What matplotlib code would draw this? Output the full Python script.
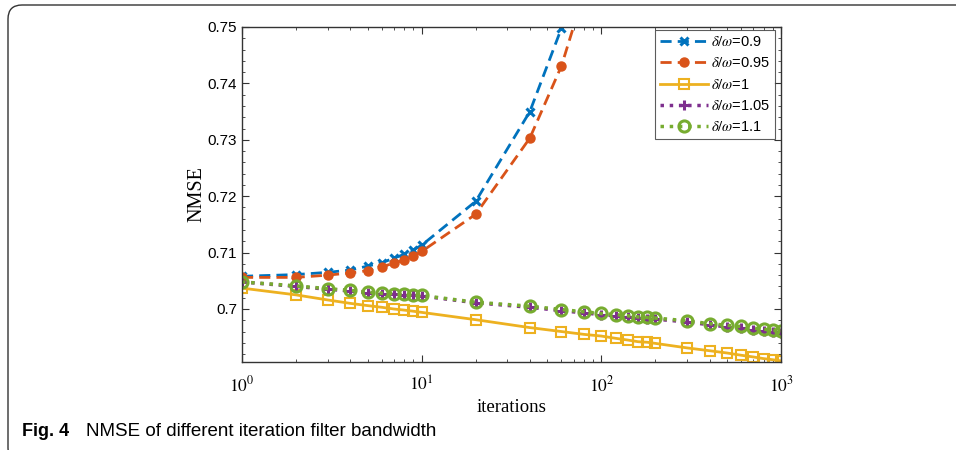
import matplotlib
matplotlib.use('Agg')
import matplotlib.pyplot as plt
from matplotlib.patches import FancyBboxPatch
from matplotlib.transforms import IdentityTransform
from matplotlib.ticker import FixedLocator, LogLocator, NullFormatter, MultipleLocator
import numpy as np

plt.rcParams['mathtext.fontset'] = 'stix'
plt.rcParams['font.family'] = ['Liberation Sans', 'DejaVu Sans']

# iterations
x_short = [1, 2, 3, 4, 5, 6, 7, 8, 9, 10, 20, 40, 60, 80, 100]
x_long = [1, 2, 3, 4, 5, 6, 7, 8, 9, 10,
          20, 40, 60, 80, 100, 120, 140, 160, 180, 200,
          300, 400, 500, 600, 700, 800, 900, 1000]

# NMSE for each delta/omega ratio
nmse_090 = [0.7058, 0.7061, 0.7065, 0.7069, 0.7076, 0.7082, 0.7090, 0.7097, 0.7105, 0.7113,
            0.7191, 0.7350, 0.7498, 0.7650, 0.7800]
nmse_095 = [0.7056, 0.7056, 0.7060, 0.7064, 0.7068, 0.7075, 0.7081, 0.7087, 0.7094, 0.7102,
            0.7168, 0.7303, 0.7431, 0.7560, 0.7690]
nmse_100 = [0.7037, 0.7025, 0.7016, 0.7010, 0.7006, 0.7003, 0.7000, 0.6998, 0.6996, 0.6994,
            0.6981, 0.6967, 0.6960, 0.6955, 0.6952, 0.6948, 0.6945, 0.6942, 0.6941, 0.6939,
            0.6931, 0.6926, 0.6922, 0.6918, 0.6915, 0.6912, 0.6910, 0.6908]
nmse_105 = [0.7048, 0.7040, 0.7035, 0.7032, 0.7029, 0.7027, 0.7026, 0.7025, 0.7024, 0.7023,
            0.7011, 0.7003, 0.6997, 0.6993, 0.6990, 0.6988, 0.6986, 0.6984, 0.6983, 0.6982,
            0.6977, 0.6972, 0.6968, 0.6966, 0.6963, 0.6961, 0.6960, 0.6958]
nmse_110 = [0.7048, 0.7041, 0.7036, 0.7033, 0.7030, 0.7028, 0.7027, 0.7026, 0.7025, 0.7024,
            0.7012, 0.7005, 0.6999, 0.6995, 0.6992, 0.6990, 0.6988, 0.6986, 0.6985, 0.6984,
            0.6979, 0.6974, 0.6971, 0.6969, 0.6966, 0.6964, 0.6963, 0.6961]

labels = [r'$\delta/\omega$=0.9', r'$\delta/\omega$=0.95', r'$\delta/\omega$=1',
          r'$\delta/\omega$=1.05', r'$\delta/\omega$=1.1']
y_ticks = [0.70, 0.71, 0.72, 0.73, 0.74, 0.75]
y_tick_labels = ['0.7', '0.71', '0.72', '0.73', '0.74', '0.75']
x_ticks = [1, 10, 100, 1000]

W, H = 956, 450
fig = plt.figure(figsize=(W / 100, H / 100), dpi=100)

# page frame: rounded top-left corner, runs off right and bottom edges
box = FancyBboxPatch((8, -12), 970, H - 5 + 12, boxstyle='round,pad=0,rounding_size=14',
                     transform=IdentityTransform(), fill=False, edgecolor='#333333', lw=1.0)
fig.patches.append(box)

ax = fig.add_axes([242 / W, 1 - 362 / H, 539 / W, 335 / H])

ax.plot(x_short, nmse_090, ls=(0, (4, 2.2)), color='#0072BD', lw=2, marker='x', ms=6, mew=2.2, label=labels[0])
ax.plot(x_short, nmse_095, ls=(0, (4, 2.2)), color='#D95319', lw=2, marker='o', ms=6.5, label=labels[1])
ax.plot(x_long, nmse_100, ls='-', color='#EDB120', lw=2, marker='s', ms=7, mfc='none', mew=1.5, label=labels[2])
ax.plot(x_long, nmse_105, ls=':', color='#7E2F8E', lw=2.5, marker='+', ms=7, mew=2.2, label=labels[3])
ax.plot(x_long, nmse_110, ls=':', color='#77AC30', lw=2.5, marker='o', ms=8, mfc='none', mew=2.2, label=labels[4])

ax.set_xscale('log')
ax.set_xlim(1, 1000)
ax.set_ylim(0.6906, 0.75)
ax.xaxis.set_major_locator(FixedLocator(x_ticks))
ax.set_xticklabels([r'$10^{%d}$' % int(np.log10(v)) for v in x_ticks], fontsize=12.5)
ax.xaxis.set_minor_locator(LogLocator(base=10, subs=np.arange(2, 10)))
ax.xaxis.set_minor_formatter(NullFormatter())
ax.set_yticks(y_ticks)
ax.set_yticklabels(y_tick_labels, fontsize=11)
ax.yaxis.set_minor_locator(MultipleLocator(0.002))
ax.tick_params(which='both', direction='in', top=True, right=True, color='#333333')
ax.tick_params(which='major', length=5)
ax.tick_params(which='minor', length=2.5)
ax.tick_params(axis='x', which='major', pad=9)
for s in ax.spines.values():
    s.set_color('#333333')
    s.set_linewidth(1.0)

ax.set_ylabel('NMSE', family='Liberation Serif', fontsize=14.5, labelpad=1)
ax.set_xlabel('iterations', family='Liberation Serif', fontsize=13.5, labelpad=3)

leg = ax.legend(loc='upper right', fontsize=10.5, frameon=True, fancybox=False, edgecolor='#333333',
                handlelength=3.3, handletextpad=0.2, labelspacing=0.5, borderpad=0.35, borderaxespad=0,
                bbox_to_anchor=(0.989, 0.991))
leg.get_frame().set_linewidth(0.8)

fig.text(22 / W, 1 - 431 / H, 'Fig. 4', fontsize=13, fontweight='bold', va='center', ha='left')
fig.text(86 / W, 1 - 431 / H, 'NMSE of different iteration filter bandwidth', fontsize=13.5, va='center',
         ha='left')

fig.savefig('out.png', dpi=100)
